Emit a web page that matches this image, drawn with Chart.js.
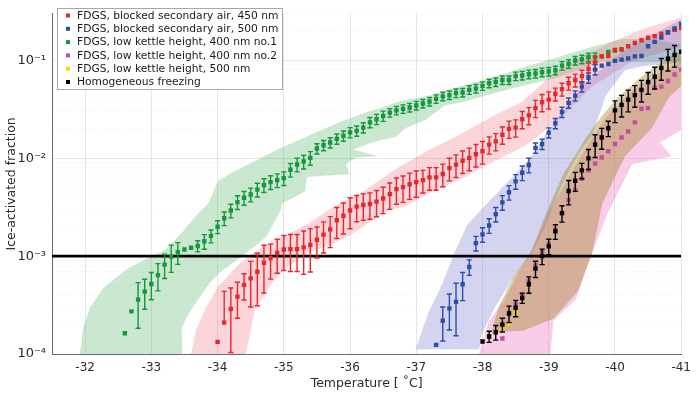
<!DOCTYPE html>
<html><head><meta charset="utf-8">
<script src="https://cdn.jsdelivr.net/npm/chart.js@4.4.1/dist/chart.umd.min.js"></script>
<style>html,body{margin:0;padding:0;background:#fff}#wrap{width:698px;height:394px;position:relative}</style>
</head><body><div id="wrap"><canvas id="c" width="698" height="394"></canvas></div>
<script>
// ---------- tick labels ----------
const xTickValues = [-32,-33,-34,-35,-36,-37,-38,-39,-40,-41];
const yTickValues = [1e-4,1e-3,1e-2,1e-1];
const yTickLabels = ['10\u207B\u2074','10\u207B\u00B3','10\u207B\u00B2','10\u207B\u00B9'];
const threshold = 1e-3;

// ---------- series: temperature, ice-activated fraction, relative error ----------
const greenT = [-32.6,-32.7,-32.8,-32.9,-33.0,-33.1,-33.2,-33.3,-33.4,-33.5,-33.6,-33.7,-33.8,-33.9,-34.0,-34.1,-34.2,-34.3,-34.4,-34.5,-34.6,-34.7,-34.8,-34.9,-35.0,-35.1,-35.2,-35.3,-35.4,-35.5,-35.6,-35.7,-35.8,-35.9,-36.0,-36.1,-36.2,-36.3,-36.4,-36.5,-36.6,-36.7,-36.8,-36.9,-37.0,-37.1,-37.2,-37.3,-37.4,-37.5,-37.6,-37.7,-37.8,-37.9,-38.0,-38.1,-38.2,-38.3,-38.4,-38.5,-38.6,-38.7,-38.8,-38.9,-39.0,-39.1,-39.2,-39.3,-39.4,-39.5,-39.6,-39.7,-39.8,-39.9,-40.0,-40.1];
const greenV = [1.63e-4,2.73e-4,3.6e-4,4.34e-4,5.2e-4,6.4e-4,8.2e-4,9.9e-4,1.10e-3,1.17e-3,1.22e-3,1.27e-3,1.42e-3,1.61e-3,2.0e-3,2.44e-3,2.93e-3,3.57e-3,3.95e-3,4.27e-3,4.79e-3,5.33e-3,5.71e-3,5.98e-3,6.27e-3,7.64e-3,8.65e-3,9.27e-3,1.01e-2,1.26e-2,1.36e-2,1.45e-2,1.58e-2,1.70e-2,1.84e-2,1.91e-2,2.06e-2,2.33e-2,2.51e-2,2.71e-2,2.93e-2,3.09e-2,3.2e-2,3.31e-2,3.47e-2,3.63e-2,3.80e-2,4.05e-2,4.30e-2,4.43e-2,4.64e-2,4.71e-2,5.01e-2,5.16e-2,5.50e-2,5.85e-2,6.03e-2,6.31e-2,6.31e-2,6.92e-2,7.03e-2,7.24e-2,7.36e-2,7.59e-2,7.71e-2,7.94e-2,8.85e-2,9.27e-2,1.0e-1,1.03e-1,1.08e-1,1.08e-1,1.10e-1,1.22e-1,1.26e-1,1.30e-1];
const greenErr = [0,0,0.49,0.34,0.31,0.31,0.28,0.31,0.25,0,0,0.13,0.17,0.15,0.15,
  0.16,0.16,0.16,0.16,0.16,0.16,0.16,0.16,0.16,0.16,0.16,0.16,0.16,0.16,
  0.12,0.12,0.12,0.12,0.12,0.12,0.12,0.12,0.12,0.12,0.12,
  0.10,0.10,0.10,0.10,0.10,0.10,0.10,0.10,0.10,0.10,0.10,0.10,0.10,0.10,0.10,0.10,0.10,0.10,0.10,0.10,0.10,0.10,0.10,0.10,0.10,0.10,0.10,0.10,0.10,0.10,0.10,0.10,
  0,0,0,0];

const redT = [-34.0,-34.1,-34.2,-34.3,-34.4,-34.5,-34.6,-34.7,-34.8,-34.9,-35.0,-35.1,-35.2,-35.3,-35.4,-35.5,-35.6,-35.7,-35.8,-35.9,-36.0,-36.1,-36.2,-36.3,-36.4,-36.5,-36.6,-36.7,-36.8,-36.9,-37.0,-37.1,-37.2,-37.3,-37.4,-37.5,-37.6,-37.7,-37.8,-37.9,-38.0,-38.1,-38.2,-38.3,-38.4,-38.5,-38.6,-38.7,-38.8,-38.9,-39.0,-39.1,-39.2,-39.3,-39.4,-39.5,-39.6,-39.7,-39.8,-39.9,-40.0,-40.1,-40.2,-40.3,-40.4,-40.5,-40.6,-40.7,-40.8,-40.9,-41.0];
const redV = [1.33e-4,2.09e-4,2.88e-4,3.86e-4,5.09e-4,5.93e-4,6.92e-4,8.57e-4,9.55e-4,1.08e-3,1.17e-3,1.18e-3,1.18e-3,1.23e-3,1.30e-3,1.47e-3,1.66e-3,1.88e-3,2.33e-3,2.59e-3,2.93e-3,3.21e-3,3.33e-3,3.41e-3,3.61e-3,3.89e-3,4.30e-3,4.84e-3,5.07e-3,5.43e-3,5.71e-3,5.98e-3,6.38e-3,6.38e-3,6.92e-3,7.94e-3,8.61e-3,9.44e-3,1.01e-2,1.10e-2,1.18e-2,1.38e-2,1.49e-2,1.74e-2,2.0e-2,2.06e-2,2.51e-2,2.75e-2,3.26e-2,3.74e-2,3.98e-2,4.54e-2,5.09e-2,5.85e-2,6.31e-2,6.92e-2,8.18e-2,9.55e-2,1.10e-1,1.11e-1,1.28e-1,1.30e-1,1.40e-1,1.51e-1,1.61e-1,1.71e-1,1.77e-1,1.88e-1,1.95e-1,2.06e-1,2.15e-1];
const redErr = [0,1.09,0.64,0.40,0.30,0.49,0.55,0.51,0.39,0.38,0.39,0.41,0.41,0.47,0.47,
  0.35,0.35,0.35,0.35,0.35,0.35,
  0.30,0.30,0.30,0.30,0.30,0.30,0.30,0.30,0.30,0.30,
  0.26,0.26,0.26,0.26,0.26,0.26,0.26,0.26,0.26,0.26,
  0.20,0.20,0.20,0.20,0.20,0.20,0.20,0.20,0.20,0.20,
  0.15,0.15,0.15,0.15,0.15,0.15,0.15,
  0,0,0,0,0,0,0,0,0,0,0,0,0];

const blueT = [-37.3,-37.4,-37.5,-37.6,-37.7,-37.8,-37.9,-38.0,-38.1,-38.2,-38.3,-38.4,-38.5,-38.6,-38.7,-38.8,-38.9,-39.0,-39.1,-39.2,-39.3,-39.4,-39.5,-39.6,-39.7,-39.8,-39.9,-40.0,-40.1,-40.2,-40.3,-40.4,-40.5,-40.6,-40.7,-40.8,-40.9,-41.0];
const blueV = [1.24e-4,2.19e-4,2.93e-4,3.41e-4,5.16e-4,7.76e-4,1.36e-3,1.67e-3,2.06e-3,2.69e-3,3.55e-3,4.50e-3,5.82e-3,7.13e-3,8.55e-3,1.28e-2,1.40e-2,1.83e-2,2.28e-2,2.97e-2,3.69e-2,4.37e-2,5.41e-2,6.65e-2,8.07e-2,8.85e-2,9.2e-2,9.9e-2,1.02e-1,1.05e-1,1.10e-1,1.11e-1,1.40e-1,1.55e-1,1.72e-1,1.93e-1,2.12e-1,2.36e-1];
const blueErr = [0,0.38,0.40,0.55,0.32,0.18,
  0.17,0.17,0.17,0.17,0.17,0.17,0.17,0.17,0.17,
  0.12,0.12,0.12,0.12,0.12,0.12,0.12,0.12,0.12,0.12,
  0,0,0,0,0,0,0,0,0,0,0,0,0];

const blackT = [-38.0,-38.1,-38.2,-38.3,-38.4,-38.5,-38.6,-38.7,-38.8,-38.9,-39.0,-39.1,-39.2,-39.3,-39.4,-39.5,-39.6,-39.7,-39.8,-39.9,-40.0,-40.1,-40.2,-40.3,-40.4,-40.5,-40.6,-40.7,-40.8,-40.9,-41.0];
const blackV = [1.34e-4,1.51e-4,1.67e-4,2.0e-4,2.59e-4,2.97e-4,3.74e-4,5.16e-4,7.46e-4,1.0e-3,1.26e-3,1.79e-3,2.75e-3,4.64e-3,5.89e-3,7.53e-3,1.0e-2,1.38e-2,1.63e-2,2.03e-2,3.09e-2,3.52e-2,3.98e-2,4.43e-2,5.01e-2,6.03e-2,6.81e-2,8.37e-2,1.04e-1,1.14e-1,1.23e-1];
const blackErr = [0,0.13,0.17,0.16,0.19,0.19,0.12,0.19,0.19,0.18,0.18,0.17,0.19,0.28,0.22,0.18,0.23,0.26,0.24,0.18,
  0.25,0.25,0.25,0.25,0.25,0.25,0.25,0.25,0.25,0.25,0];

const magT = [-38.3,-38.4,-38.5,-38.6,-38.7,-38.8,-38.9,-39.0,-39.1,-39.2,-39.3,-39.4,-39.5,-39.6,-39.7,-39.8,-39.9,-40.0,-40.1,-40.2,-40.3,-40.4,-40.5,-40.6,-40.7,-40.8,-40.9,-41.0];
const magV = [1.44e-4,2.63e-4,3.24e-4,4.07e-4,5.62e-4,8.13e-4,1.10e-3,1.33e-3,1.88e-3,2.75e-3,3.74e-3,4.75e-3,6.17e-3,7.53e-3,8.85e-3,1.02e-2,1.18e-2,1.40e-2,1.63e-2,1.88e-2,2.33e-2,3.21e-2,3.26e-2,5.28e-2,5.41e-2,6.17e-2,7.19e-2,8.07e-2];

const yelT = [-38.3,-38.4,-38.5];
const yelV = [1.82e-4,2.06e-4,2.65e-4];

// ---------- uncertainty envelopes (outline: temperature, fraction) ----------
const greenBandT = [-31.91,-31.97,-32.07,-32.27,-32.63,-32.92,-33.22,-33.46,-33.67,-33.86,-34.01,-34.26,-34.56,-34.90,-35.24,-35.50,-35.84,-36.24,-36.49,-36.73,-37.18,-37.68,-38.18,-38.67,-39.17,-39.66,-40.11,-40.56,-41.0,
  -41.0,-40.41,-39.81,-39.32,-39.07,-38.77,-38.43,-37.98,-37.68,-37.43,-37.13,-36.84,-36.69,-36.33,-36.05,-36.43,-36.09,-35.94,-35.99,-35.35,-35.32,-34.98,-34.95,-34.75,-34.50,-34.25,-34.05,-33.90,-33.76,-33.56,-33.46,-33.47];
const greenBandV = [8.7e-5,1.86e-4,2.95e-4,4.68e-4,7.41e-4,9.33e-4,1.17e-3,1.74e-3,2.57e-3,3.47e-3,5.89e-3,7.41e-3,9.33e-3,1.23e-2,1.55e-2,1.86e-2,2.34e-2,2.95e-2,3.31e-2,3.80e-2,4.37e-2,5.50e-2,6.76e-2,8.71e-2,1.10e-1,1.38e-1,1.66e-1,1.66e-1,1.45e-1,
  9.77e-2,9.55e-2,9.77e-2,7.41e-2,6.46e-2,5.89e-2,5.13e-2,4.27e-2,3.72e-2,3.47e-2,2.45e-2,2.04e-2,1.66e-2,1.45e-2,1.23e-2,1.05e-2,1.02e-2,8.71e-3,6.92e-3,6.46e-3,4.57e-3,3.47e-3,2.95e-3,1.62e-3,1.17e-3,8.71e-4,6.92e-4,5.50e-4,4.07e-4,2.57e-4,1.86e-4,8.7e-5];

const redBandT = [-33.58,-33.67,-33.82,-34.01,-34.31,-34.46,-34.71,-35.05,-35.39,-35.65,-35.84,-36.20,-36.69,-37.18,-37.68,-38.18,-38.58,-38.82,-39.07,-39.32,-39.51,-39.96,-40.41,-41.0,
  -41.0,-40.26,-39.66,-39.22,-38.92,-38.67,-38.18,-37.68,-37.18,-36.84,-36.58,-36.29,-35.99,-35.69,-35.39,-35.01,-34.80,-34.56,-34.41];
const redBandV = [8.7e-5,1.74e-4,2.95e-4,4.90e-4,8.13e-4,9.77e-4,1.29e-3,1.66e-3,2.19e-3,2.88e-3,3.47e-3,4.57e-3,7.76e-3,1.20e-2,1.78e-2,2.75e-2,3.72e-2,5.13e-2,7.41e-2,9.33e-2,1.10e-1,1.55e-1,2.09e-1,2.75e-1,
  1.38e-1,9.77e-2,5.50e-2,2.75e-2,1.86e-2,1.38e-2,9.33e-3,6.17e-3,4.37e-3,3.24e-3,2.95e-3,2.19e-3,1.62e-3,1.29e-3,1.10e-3,7.41e-4,5.13e-4,2.75e-4,8.7e-5];

const blueBandT = [-36.99,-37.18,-37.39,-37.58,-37.77,-38.07,-38.47,-38.77,-38.96,-39.22,-39.51,-39.81,-40.11,-40.56,-41.0,
  -41.0,-40.41,-40.15,-39.86,-39.66,-39.44,-39.17,-38.96,-38.77,-38.43,-38.18,-37.98,-37.95];
const blueBandV = [1.12e-4,2.63e-4,5.13e-4,1.10e-3,2.09e-3,3.47e-3,6.61e-3,1.10e-2,1.82e-2,3.09e-2,5.50e-2,8.32e-2,1.23e-1,1.82e-1,2.63e-1,
  9.55e-2,8.71e-2,7.94e-2,4.37e-2,1.74e-2,1.10e-2,4.90e-3,2.09e-3,1.15e-3,5.50e-4,2.95e-4,1.55e-4,1.12e-4];

const magBandT = [-37.92,-38.10,-38.32,-38.55,-38.77,-38.99,-39.29,-39.59,-39.89,-40.26,-40.71,-41.0,
  -41.0,-40.68,-40.85,-40.26,-39.89,-39.66,-39.41,-39.07,-39.02];
const magBandV = [8.7e-5,2.19e-4,3.47e-4,6.92e-4,1.23e-3,2.75e-3,6.17e-3,1.38e-2,2.75e-2,4.90e-2,7.76e-2,9.77e-2,
  1.95e-2,1.45e-2,1.05e-2,8.71e-3,2.75e-3,1.10e-3,3.63e-4,2.19e-4,8.7e-5];

const yelBandT = [-38.13,-38.25,-38.47,-38.73,-38.96,-39.22,-39.41,-39.56,-39.81,-40.07,-40.41,-40.78,-41.0,
  -41.0,-40.81,-40.56,-40.15,-39.81,-39.66,-39.44,-39.07,-38.62];
const yelBandV = [1.66e-4,3.09e-4,6.17e-4,1.10e-3,2.75e-3,6.92e-3,1.10e-2,1.62e-2,2.75e-2,4.37e-2,6.92e-2,1.05e-1,1.26e-1,
  5.50e-2,4.17e-2,2.04e-2,1.05e-2,3.47e-3,1.10e-3,4.37e-4,2.29e-4,1.74e-4];

const legendLabels = ['FDGS, blocked secondary air, 450 nm','FDGS, blocked secondary air, 500 nm','FDGS, low kettle height, 400 nm no.1','FDGS, low kettle height, 400 nm no.2','FDGS, low kettle height, 500 nm','Homogeneous freezing'];

// ---------- build ----------
const pts = (T, V) => T.map((t, i) => ({x: t, y: V[i]}));
const COL = {red:'#e8262b', blue:'#2b4ea6', green:'#14973d', mag:'#c94aa4', yel:'#efe000', black:'#000000'};

function pointSet(label, T, V, color, err, order) {
  return {type:'scatter', label, data: pts(T, V), errRel: err, backgroundColor: color, borderColor: color,
    pointStyle:'rect', pointRadius: 3.1, pointBorderWidth: 0, showLine:false, order};
}
function bandSet(T, V, color, order) {
  return {type:'line', label:'band', data: pts(T, V), fill:'shape', backgroundColor: color,
    borderWidth: 0, borderColor:'rgba(0,0,0,0)', pointRadius: 0, tension: 0, order, isBand:true};
}

const datasets = [
  pointSet(legendLabels[5], blackT, blackV, COL.black, blackErr, 0),
  pointSet(legendLabels[4], yelT, yelV, COL.yel, null, 2),
  pointSet(legendLabels[3], magT, magV, COL.mag, null, 1),
  pointSet(legendLabels[1], blueT, blueV, COL.blue, blueErr, 3),
  pointSet(legendLabels[0], redT, redV, COL.red, redErr, 4),
  pointSet(legendLabels[2], greenT, greenV, COL.green, greenErr, 5),
  {type:'line', label:'threshold', data:[{x:-31.5, y:threshold},{x:-41, y:threshold}], borderColor:'#000', borderWidth:2.6, pointRadius:0, fill:false, order:6},
  bandSet(yelBandT, yelBandV, 'rgba(150,125,10,0.36)', 7),
  bandSet(magBandT, magBandV, 'rgba(235,95,190,0.32)', 8),
  bandSet(blueBandT, blueBandV, 'rgba(95,95,205,0.27)', 9),
  bandSet(redBandT, redBandV, 'rgba(240,80,100,0.24)', 10),
  bandSet(greenBandT, greenBandV, 'rgba(60,170,80,0.27)', 11)
];

const errorBars = {
  id:'errorBars',
  beforeDatasetDraw(chart, args) {
    const ds = chart.data.datasets[args.index];
    if (!ds.errRel) return;
    const xs = chart.scales.x, ys = chart.scales.y, ctx = chart.ctx, a = chart.chartArea;
    ctx.save();
    ctx.beginPath(); ctx.rect(a.left, a.top, a.right - a.left, a.bottom - a.top); ctx.clip();
    ctx.strokeStyle = ds.borderColor; ctx.lineWidth = 1.4;
    const cap = 2.6;
    ds.data.forEach((p, i) => {
      const r = ds.errRel[i]; if (!r) return;
      const s = p.y * r;
      const px = xs.getPixelForValue(p.x);
      const top = ys.getPixelForValue(p.y + s);
      const lo = p.y - s;
      const bot = lo > 0 ? ys.getPixelForValue(lo) : ys.getPixelForValue(p.y);
      ctx.beginPath();
      ctx.moveTo(px, top); ctx.lineTo(px, bot);
      ctx.moveTo(px - cap, top); ctx.lineTo(px + cap, top);
      if (lo > 0) { ctx.moveTo(px - cap, bot); ctx.lineTo(px + cap, bot); }
      ctx.stroke();
    });
    ctx.restore();
  }
};

const legendBox = {
  id:'legendBox',
  afterDraw(chart) {
    const ctx = chart.ctx;
    const cols = [COL.red, COL.blue, COL.green, COL.mag, COL.yel, COL.black];
    const x0 = 57, y0 = 8, w = 225, h = 81;
    ctx.save();
    ctx.fillStyle = '#fff'; ctx.fillRect(x0, y0, w, h);
    ctx.strokeStyle = '#a8a8a8'; ctx.lineWidth = 1; ctx.strokeRect(x0 + 0.5, y0 + 0.5, w, h);
    ctx.font = '10.7px "DejaVu Sans"'; ctx.textBaseline = 'middle';
    legendLabels.forEach((t, i) => {
      const cy = y0 + 7.5 + i * 13.3;
      ctx.fillStyle = cols[i]; ctx.fillRect(x0 + 9, cy - 2, 4, 4);
      ctx.fillStyle = '#1a1a1a'; ctx.fillText(t, x0 + 20, cy + 0.5);
    });
    ctx.restore();
  }
};

const isMajorY = v => yTickValues.some(t => Math.abs(v / t - 1) < 1e-6);

new Chart(document.getElementById('c'), {
  type:'scatter',
  data:{datasets},
  plugins:[errorBars, legendBox],
  options:{
    responsive:false, animation:false, events:[], devicePixelRatio:1,
    layout:{padding:{top:5, right:8, left:0, bottom:0}},
    plugins:{legend:{display:false}, tooltip:{enabled:false}},
    scales:{
      x:{type:'linear', reverse:true, min:-41, max:-31.5,
        afterBuildTicks(s){ s.ticks = xTickValues.map(v => ({value:v})); },
        afterFit(s){ s.height = 40; },
        ticks:{font:{family:'DejaVu Sans', size:12}, color:'#2a2a2a', padding:7, callback:v => String(v), autoSkip:false, maxRotation:0},
        grid:{color:'rgba(0,0,0,0.10)', drawTicks:false, lineWidth:1},
        border:{display:true, color:'#6a6a6a'},
        title:{display:true, text:'Temperature [ \u02DAC]', font:{family:'DejaVu Sans', size:12.5}, color:'#2a2a2a', padding:{top:0,bottom:3}}
      },
      y:{type:'logarithmic', min:1e-4, max:0.3,
        afterBuildTicks(s){
          const t = [];
          yTickValues.forEach(d => { for (let m = 1; m <= 9; m++) { const v = m * d; if (v <= 0.3 * 1.0001) t.push({value:v, major: m === 1}); } });
          s.ticks = t;
        },
        afterFit(s){ s.width = 52; },
        ticks:{font:{family:'DejaVu Sans', size:13}, color:'#2a2a2a', padding:6, autoSkip:false,
          callback:(v) => { const k = yTickValues.findIndex(t => Math.abs(v / t - 1) < 1e-6); return k >= 0 ? yTickLabels[k] : ''; }},
        grid:{drawTicks:false, lineWidth:1,
          color:(c) => (c.tick && isMajorY(c.tick.value)) ? 'rgba(0,0,0,0.10)' : 'rgba(0,0,0,0.06)'},
        border:{display:true, color:'#6a6a6a', dash:(c) => (c.tick && !isMajorY(c.tick.value)) ? [1,2] : []},
        title:{display:true, text:'Ice-activated fraction', font:{family:'DejaVu Sans', size:12.5}, color:'#2a2a2a', padding:{top:4,bottom:0}}
      }
    }
  }
});
</script>
</body></html>
